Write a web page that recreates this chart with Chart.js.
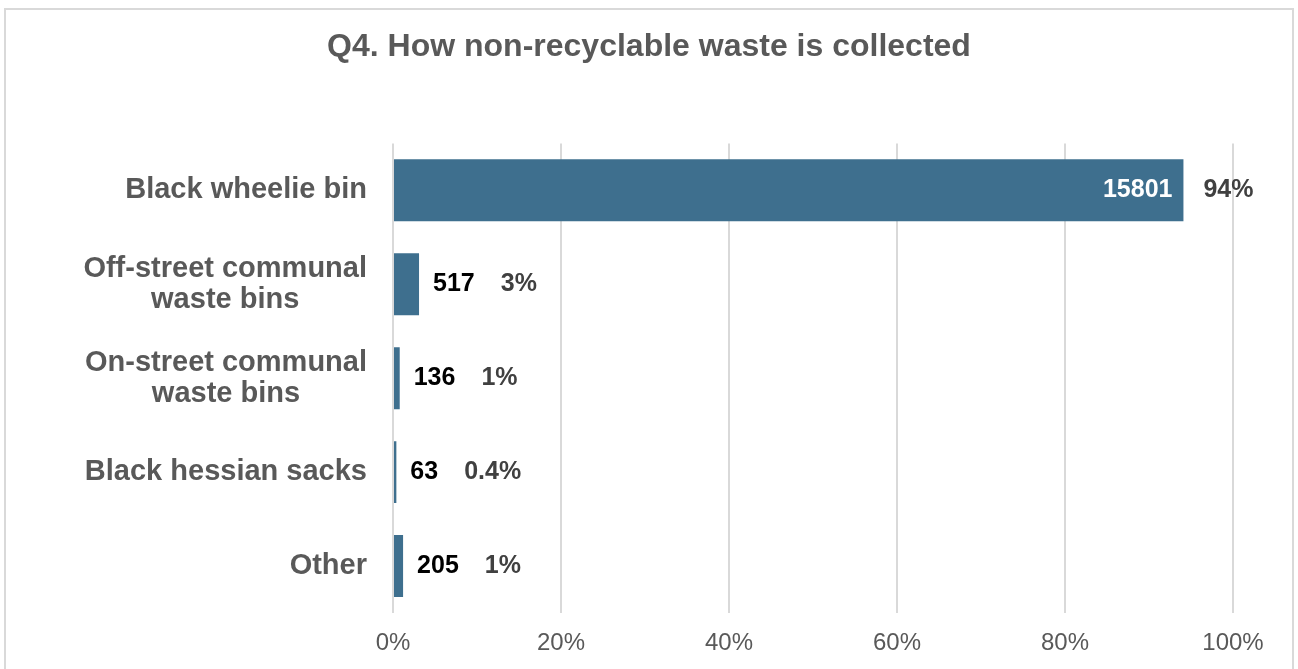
<!DOCTYPE html>
<html>
<head>
<meta charset="utf-8">
<title>Q4. How non-recyclable waste is collected</title>
<script src="https://cdn.jsdelivr.net/npm/chart.js@4.4.0/dist/chart.umd.min.js"></script>
<style>
    body { margin: 0; background: #ffffff; }
    #frame { position: absolute; left: 4px; top: 8px; width: 1290px; height: 720px; border: 2px solid #d9d9d9; box-sizing: border-box; }
    #wrap { position: absolute; left: 0; top: 0; width: 1298px; height: 669px; }
</style>
</head>
<body>
<div id="frame"></div>
<div id="wrap"><canvas id="wasteChart" width="1298" height="669"></canvas></div>
<script>
var categories = [
    ['Black wheelie bin'],
    ['Off-street communal', 'waste bins'],
    ['On-street communal', 'waste bins'],
    ['Black hessian sacks'],
    ['Other']
];
var counts = [15801, 517, 136, 63, 205];
var percents = [94.1, 3.1, 0.8, 0.4, 1.2];
var percentLabels = ['94%', '3%', '1%', '0.4%', '1%'];

var fontFamily = '"Liberation Sans", Arial, sans-serif';
var labelFont = 'bold 25px ' + fontFamily;
var categoryFont = 'bold 29px ' + fontFamily;

// draws the count and percentage next to each bar
var barLabels = {
    id: 'barLabels',
    afterDatasetsDraw: function (chart) {
        var ctx = chart.ctx;
        var meta = chart.getDatasetMeta(0);
        var left = chart.chartArea.left;
        ctx.save();
        ctx.font = labelFont;
        ctx.textBaseline = 'middle';
        meta.data.forEach(function (bar, i) {
            var count = String(counts[i]);
            var w = ctx.measureText(count).width;
            if (bar.x - left > w + 40) {
                // count fits inside the bar
                ctx.fillStyle = '#ffffff';
                ctx.textAlign = 'right';
                ctx.fillText(count, bar.x - 11, bar.y);
                ctx.fillStyle = '#404040';
                ctx.textAlign = 'left';
                ctx.fillText(percentLabels[i], bar.x + 20, bar.y);
            } else {
                ctx.fillStyle = '#000000';
                ctx.textAlign = 'left';
                ctx.fillText(count, bar.x + 14, bar.y);
                ctx.fillStyle = '#404040';
                ctx.fillText(percentLabels[i], bar.x + 14 + w + 26, bar.y);
            }
        });
        ctx.restore();
    }
};

// category names: each block right-aligned to the axis, lines centred inside the block
var categoryLabels = {
    id: 'categoryLabels',
    afterDraw: function (chart) {
        var ctx = chart.ctx;
        var yScale = chart.scales.y;
        var right = chart.chartArea.left - 26;
        var lineGap = 31;
        ctx.save();
        ctx.font = categoryFont;
        ctx.fillStyle = '#595959';
        ctx.textAlign = 'center';
        ctx.textBaseline = 'middle';
        categories.forEach(function (lines, i) {
            var y = yScale.getPixelForValue(i);
            var widest = Math.max.apply(null, lines.map(function (s) { return ctx.measureText(s).width; }));
            var cx = right - widest / 2;
            var top = y - (lines.length - 1) * lineGap / 2;
            lines.forEach(function (s, j) {
                ctx.fillText(s, cx, top + j * lineGap);
            });
        });
        ctx.restore();
    }
};

document.addEventListener("DOMContentLoaded", function () {
    var ctx = document.getElementById('wasteChart').getContext('2d');
    var chart = new Chart(ctx, {
        type: 'bar',
        data: {
            labels: categories,
            datasets: [{
                data: percents,
                backgroundColor: '#3e6f8e',
                categoryPercentage: 1,
                barPercentage: 0.66
            }]
        },
        options: {
            indexAxis: 'y',
            responsive: false,
            animation: false,
            devicePixelRatio: 1,
            layout: { padding: 0 },
            plugins: {
                legend: { display: false },
                tooltip: { enabled: false },
                title: {
                    display: true,
                    text: 'Q4. How non-recyclable waste is collected',
                    color: '#595959',
                    font: { family: fontFamily, size: 32, weight: 'bold' },
                    padding: { top: 28, bottom: 77 }
                }
            },
            scales: {
                x: {
                    min: 0,
                    max: 100,
                    ticks: {
                        stepSize: 20,
                        color: '#595959',
                        padding: 16,
                        font: { family: fontFamily, size: 24 },
                        callback: function (v) { return v + '%'; }
                    },
                    grid: { color: '#d9d9d9', lineWidth: 2, drawTicks: false },
                    border: { display: false },
                    afterFit: function (scale) { scale.height = 56; }
                },
                y: {
                    ticks: { display: false },
                    grid: { display: false },
                    border: { display: false },
                    afterFit: function (scale) { scale.width = 393; }
                },
                // empty right-hand margin so the title stays centred on the page
                yRight: {
                    position: 'right',
                    ticks: { display: false },
                    grid: { display: false },
                    border: { display: false },
                    afterFit: function (scale) { scale.width = 65; }
                }
            }
        },
        plugins: [barLabels, categoryLabels]
    });
});
</script>
</body>
</html>
